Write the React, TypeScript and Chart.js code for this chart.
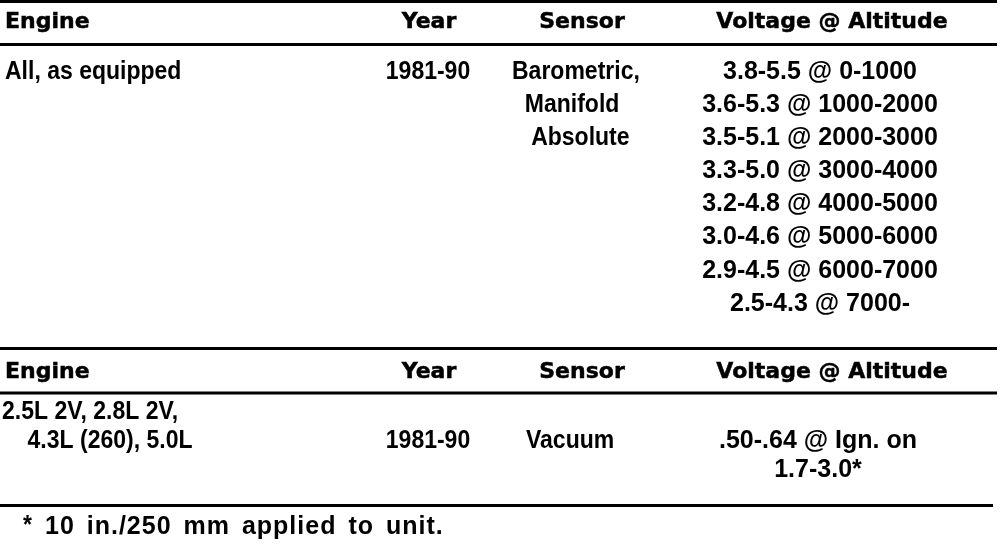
import React, { useEffect, useRef } from "react";
import { Chart, registerables } from "chart.js";

Chart.register(...registerables);

// ---- table content ----
const headerLabels = ["Engine", "Year", "Sensor", "Voltage @ Altitude"];

const s1Engine = ["All, as equipped"];
const s1Year = ["1981-90"];
const s1Sensor = ["Barometric,", "  Manifold", "   Absolute"];
const s1Voltage = [
  "3.8-5.5 @ 0-1000",
  "3.6-5.3 @ 1000-2000",
  "3.5-5.1 @ 2000-3000",
  "3.3-5.0 @ 3000-4000",
  "3.2-4.8 @ 4000-5000",
  "3.0-4.6 @ 5000-6000",
  "2.9-4.5 @ 6000-7000",
  "2.5-4.3 @ 7000-",
];

const s2Engine = ["2.5L 2V, 2.8L 2V,", "    4.3L (260), 5.0L"];
const s2Year = ["1981-90"];
const s2Sensor = ["Vacuum"];
const s2Voltage = [".50-.64 @ Ign. on", "1.7-3.0*"];

const footMark = ["*"];
const footText = ["10 in./250 mm applied to unit."];

// ---- layout (positions in scale units) ----
const W = 1008;
const H = 546;
type FontSpec = { family: string; weight: string; size: number; cap: number; sx: number; stroke: number; ls: number; ws: number };
const HEAD_FONT: FontSpec = { family: '"DejaVu Sans", sans-serif', weight: "bold", size: 22, cap: 0.729, sx: 1, stroke: 0.5, ls: 0, ws: 0 };
const BODY_FONT: FontSpec = { family: '"Liberation Sans", Arial, sans-serif', weight: "bold", size: 25, cap: 0.716, sx: 0.92, stroke: 0, ls: 0, ws: 0 };
const VOLT_FONT: FontSpec = { ...BODY_FONT, sx: 1.0 };
const FOOT_FONT: FontSpec = { ...BODY_FONT, sx: 1.0, ls: 1, ws: 4 };

const RULES = [
  { y: 1.5, x1: 0, x2: 997, w: 3 },
  { y: 44.5, x1: 0, x2: 997, w: 3 },
  { y: 348.5, x1: 0, x2: 997, w: 3 },
  { y: 393, x1: 0, x2: 997, w: 3 },
  { y: 505.5, x1: 0, x2: 993, w: 3 },
];

type Cell = { text: string; x: number; y: number; align: CanvasTextAlign; font: FontSpec };

function buildCells(): Cell[] {
  const cells: Cell[] = [];
  const headX = [
    { x: 5, a: "left" as CanvasTextAlign },
    { x: 429, a: "center" as CanvasTextAlign },
    { x: 582, a: "center" as CanvasTextAlign },
    { x: 832, a: "center" as CanvasTextAlign },
  ];
  [20, 370].forEach((hy) =>
    headerLabels.forEach((t, i) => cells.push({ text: t, x: headX[i].x, y: hy, align: headX[i].a, font: HEAD_FONT }))
  );
  const r1 = 70, p1 = 33.1;
  s1Engine.forEach((t, i) => cells.push({ text: t, x: 5, y: r1 + i * p1, align: "left", font: BODY_FONT }));
  s1Year.forEach((t, i) => cells.push({ text: t, x: 428, y: r1 + i * p1, align: "center", font: BODY_FONT }));
  s1Sensor.forEach((t, i) => cells.push({ text: t, x: 512, y: r1 + i * p1, align: "left", font: BODY_FONT }));
  s1Voltage.forEach((t, i) => cells.push({ text: t, x: 820, y: r1 + i * p1, align: "center", font: VOLT_FONT }));
  const r2 = 410, p2 = 29;
  s2Engine.forEach((t, i) => cells.push({ text: t, x: 2, y: r2 + i * p2, align: "left", font: BODY_FONT }));
  s2Year.forEach((t, i) => cells.push({ text: t, x: 428, y: r2 + p2 + i * p2, align: "center", font: BODY_FONT }));
  s2Sensor.forEach((t, i) => cells.push({ text: t, x: 526, y: r2 + p2 + i * p2, align: "left", font: BODY_FONT }));
  s2Voltage.forEach((t, i) => cells.push({ text: t, x: 818, y: r2 + p2 + i * p2, align: "center", font: VOLT_FONT }));
  footMark.forEach((t) => cells.push({ text: t, x: 23, y: 524, align: "left", font: BODY_FONT }));
  footText.forEach((t) => cells.push({ text: t, x: 45, y: 525, align: "left", font: FOOT_FONT }));
  return cells;
}

const tablePlugin = {
  id: "tablePlugin",
  afterDraw(chart: any) {
    const { ctx, scales } = chart;
    const xs = scales.x;
    const ys = scales.y;
    ctx.save();
    ctx.fillStyle = "#ffffff";
    ctx.fillRect(0, 0, chart.width, chart.height);
    ctx.strokeStyle = "#000000";
    RULES.forEach((r) => {
      ctx.lineWidth = r.w;
      ctx.beginPath();
      ctx.moveTo(xs.getPixelForValue(r.x1), ys.getPixelForValue(r.y));
      ctx.lineTo(xs.getPixelForValue(r.x2), ys.getPixelForValue(r.y));
      ctx.stroke();
    });
    ctx.fillStyle = "#000000";
    ctx.textBaseline = "alphabetic";
    buildCells().forEach((c) => {
      const f = c.font;
      ctx.save();
      ctx.font = `${f.weight} ${f.size}px ${f.family}`;
      try {
        (ctx as any).letterSpacing = `${f.ls}px`;
        (ctx as any).wordSpacing = `${f.ws}px`;
      } catch (e) {}
      const px = xs.getPixelForValue(c.x);
      const py = ys.getPixelForValue(c.y) + (f.cap * f.size) / 2;
      ctx.translate(px, py);
      ctx.scale(f.sx, 1);
      ctx.textAlign = c.align;
      ctx.fillText(c.text, 0, 0);
      if (f.stroke > 0) {
        ctx.lineWidth = f.stroke;
        ctx.strokeText(c.text, 0, 0);
      }
      ctx.restore();
    });
    ctx.restore();
  },
};

export default function App() {
  const ref = useRef<HTMLCanvasElement | null>(null);
  useEffect(() => {
    if (!ref.current) return;
    const chart = new Chart(ref.current, {
      type: "scatter",
      data: { datasets: [{ data: [], pointRadius: 0 }] },
      options: {
        animation: false,
        responsive: false,
        devicePixelRatio: 1,
        layout: { padding: 0 },
        plugins: { legend: { display: false }, tooltip: { enabled: false } },
        scales: {
          x: { type: "linear", min: 0, max: W, display: false },
          y: { type: "linear", min: 0, max: H, reverse: true, display: false },
        },
      },
      plugins: [tablePlugin],
    });
    const fontsReady = (document as any).fonts;
    if (fontsReady && fontsReady.ready) fontsReady.ready.then(() => chart.draw());
    return () => chart.destroy();
  }, []);
  return (
    <div style={{ position: "fixed", left: 0, top: 0, width: W, height: H, background: "#fff" }}>
      <canvas ref={ref} width={W} height={H} style={{ width: W, height: H, display: "block" }} />
    </div>
  );
}
